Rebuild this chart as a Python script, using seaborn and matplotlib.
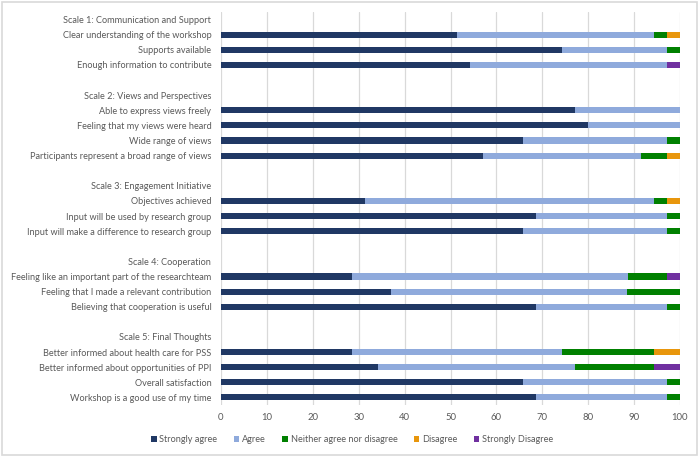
import matplotlib
matplotlib.use("Agg")
import matplotlib.pyplot as plt
import seaborn as sns
import pandas as pd
import numpy as np
from matplotlib.patches import Rectangle, Patch

sns.set_theme(style="white")
plt.rcParams['font.family'] = ['Lato', 'DejaVu Sans']

categories = [
    "Scale 1: Communication and Support",
    "Clear understanding of the workshop",
    "Supports available",
    "Enough information to contribute",
    " ",
    "Scale 2: Views and Perspectives",
    "Able to express views freely",
    "Feeling that my views were heard",
    "Wide range of views",
    "Participants represent a broad range of views",
    "  ",
    "Scale 3: Engagement Initiative",
    "Objectives achieved",
    "Input will be used by research group",
    "Input will make a difference to research group",
    "   ",
    "Scale 4: Cooperation",
    "Feeling like an important part of the researchteam",
    "Feeling that I made a relevant contribution",
    "Believing that cooperation is useful",
    "    ",
    "Scale 5: Final Thoughts",
    "Better informed about health care for PSS",
    "Better informed about opportunities of PPI",
    "Overall satisfaction",
    "Workshop is a good use of my time",
]

strongly_agree = [0, 51.4, 74.3, 54.3, 0, 0, 77.1, 80.0, 65.7, 57.1, 0, 0, 31.4, 68.6, 65.7, 0,
                  0, 28.6, 37.1, 68.6, 0, 0, 28.6, 34.3, 65.7, 68.6]
agree = [0, 42.9, 22.9, 42.9, 0, 0, 22.9, 20.0, 31.4, 34.3, 0, 0, 62.9, 28.6, 31.4, 0,
         0, 60.0, 51.4, 28.6, 0, 0, 45.7, 42.9, 31.4, 28.6]
neither = [0, 2.9, 2.9, 0, 0, 0, 0, 0, 2.9, 5.7, 0, 0, 2.9, 2.9, 2.9, 0,
           0, 8.6, 11.4, 2.9, 0, 0, 20.0, 17.1, 2.9, 2.9]
disagree = [0, 2.9, 0, 0, 0, 0, 0, 0, 0, 2.9, 0, 0, 2.9, 0, 0, 0,
            0, 0, 0, 0, 0, 0, 5.7, 0, 0, 0]
strongly_disagree = [0, 0, 0, 2.9, 0, 0, 0, 0, 0, 0, 0, 0, 0, 0, 0, 0,
                     0, 2.9, 0, 0, 0, 0, 0, 5.7, 0, 0]

series_names = ["Strongly agree", "Agree", "Neither agree nor disagree", "Disagree", "Strongly Disagree"]
colors = ["#203864", "#8faadc", "#008000", "#e8960c", "#7030a0"]

df = pd.DataFrame({
    "category": categories,
    "Strongly agree": strongly_agree,
    "Agree": agree,
    "Neither agree nor disagree": neither,
    "Disagree": disagree,
    "Strongly Disagree": strongly_disagree,
})
cum = df[series_names].cumsum(axis=1)
has = df[series_names].sum(axis=1) > 0

fig = plt.figure(figsize=(7.0, 4.57), dpi=100)
ax = fig.add_axes([221/700, 1-405/457, (680-221)/700, (405-12)/457])

for name, col in reversed(list(zip(series_names, colors))):
    vals = cum[name].clip(upper=100).where(has, 0)
    sns.barplot(x=vals, y=df["category"], order=categories, orient="h",
                color=col, saturation=1, width=0.4, linewidth=0, ax=ax, zorder=3)

ax.set_xlim(0, 100)
ax.set_ylim(len(categories) - 0.5, -0.5)
ax.set_xticks(np.arange(0, 101, 10))
ax.xaxis.grid(True, color="#d9d9d9", linewidth=0.9, zorder=0)
ax.set_axisbelow(True)
for s in ax.spines.values():
    s.set_visible(False)
ax.set_xlabel("")
ax.set_ylabel("")
ax.tick_params(axis="both", length=0, labelcolor="#595959")
ax.tick_params(axis="y", pad=7, labelsize=6.6)
ax.tick_params(axis="x", pad=6, labelsize=6.8)

handles = [Patch(facecolor=c, edgecolor="none") for c in colors]
fig.legend(handles, series_names, loc="center", bbox_to_anchor=(0.503, 1-440/457),
           ncol=5, frameon=False, fontsize=6.6, labelcolor="#595959",
           handlelength=0.6, handleheight=0.6, handletextpad=0.3, columnspacing=1.8)

fig.patches.append(Rectangle((2/700, 2/457), 695/700, 453/457, transform=fig.transFigure,
                             fill=False, edgecolor="#d9d9d9", linewidth=1.2))

fig.savefig("out.png", dpi=100)
